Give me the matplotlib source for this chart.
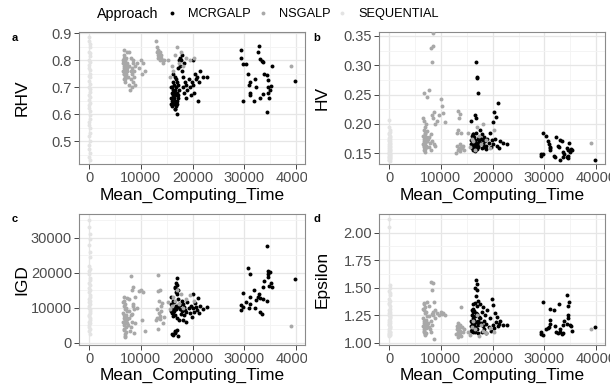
import matplotlib
matplotlib.use("Agg")
import matplotlib.pyplot as plt
from matplotlib.lines import Line2D
from matplotlib.ticker import FixedLocator, FormatStrFormatter
from matplotlib.transforms import Bbox, TransformedBbox

plt.rcParams["font.family"] = ["Liberation Sans", "DejaVu Sans"]

approaches = ["MCRGALP", "NSGALP", "SEQUENTIAL"]
colors = {"MCRGALP": "#000000", "NSGALP": "#A8A8A8", "SEQUENTIAL": "#E3E3E3"}

# ---------------- MCRGALP ----------------
mcr_time = [
    # cluster ~16-17k
    15800, 15900, 16000, 16000, 16100, 16100, 16200, 16200, 16300, 16300, 16400, 16400,
    16500, 16500, 16500, 16600, 16600, 16700, 16700, 16800, 16800, 16900, 16900, 17000,
    17000, 17100, 17100, 17200, 17300, 17400, 16200, 16600, 16900, 17200, 15900, 16400,
    # cluster 17.5-23k
    17500, 17600, 17800, 17900, 18000, 18100, 18200, 18300, 18400, 18500, 18700, 18800,
    19000, 19200, 19400, 19600, 19800, 20000, 20100, 20300, 20400, 20600, 20800, 21000,
    21200, 21500, 22000, 22800,
    # cluster 29-36k
    29400, 29400, 29800, 30300, 30600, 31000, 31000, 31100, 29800, 31800, 32900, 32600,
    33000, 33300, 33600, 33800, 34300, 34500, 34600, 34500, 34800, 35400, 33600, 34400,
    32000, 32300, 35000, 35200, 30800, 33000,
    39700,
]
mcr_rhv = [
    0.64, 0.66, 0.70, 0.68, 0.63, 0.65, 0.69, 0.72, 0.64, 0.67, 0.71, 0.66,
    0.62, 0.65, 0.74, 0.64, 0.69, 0.63, 0.67, 0.70, 0.73, 0.65, 0.60, 0.68,
    0.64, 0.77, 0.66, 0.71, 0.69, 0.80, 0.75, 0.62, 0.72, 0.67, 0.70, 0.68,
    0.81, 0.78, 0.80, 0.76, 0.82, 0.70, 0.74, 0.79, 0.68, 0.72, 0.66, 0.71,
    0.69, 0.73, 0.70, 0.67, 0.72, 0.71, 0.80, 0.68, 0.75, 0.73, 0.74, 0.65,
    0.72, 0.76, 0.74, 0.74,
    0.84, 0.81, 0.785, 0.785, 0.75, 0.72, 0.68, 0.67, 0.65, 0.65, 0.853, 0.83,
    0.805, 0.798, 0.793, 0.75, 0.746, 0.727, 0.70, 0.68, 0.66, 0.779, 0.676, 0.61,
    0.73, 0.70, 0.69, 0.705, 0.71, 0.66,
    0.724,
]
mcr_hv = [
    0.165, 0.172, 0.158, 0.180, 0.168, 0.161, 0.175, 0.183, 0.155, 0.170, 0.164, 0.178,
    0.160, 0.215, 0.168, 0.153, 0.172, 0.210, 0.162, 0.185, 0.305, 0.157, 0.280, 0.166,
    0.279, 0.174, 0.253, 0.160, 0.178, 0.170, 0.182, 0.156, 0.167, 0.163, 0.205, 0.171,
    0.168, 0.190, 0.175, 0.158, 0.182, 0.165, 0.172, 0.160, 0.178, 0.170, 0.163, 0.157,
    0.175, 0.168, 0.185, 0.160, 0.172, 0.203, 0.166, 0.220, 0.174, 0.212, 0.162, 0.235,
    0.158, 0.170, 0.167, 0.165,
    0.148, 0.145, 0.185, 0.179, 0.171, 0.161, 0.158, 0.156, 0.149, 0.146, 0.160, 0.163,
    0.172, 0.171, 0.152, 0.149, 0.158, 0.156, 0.142, 0.145, 0.167, 0.155, 0.144, 0.143,
    0.143, 0.178, 0.152, 0.157, 0.165, 0.138,
    0.139,
]
mcr_igd = [
    9000, 11000, 10500, 8500, 2500, 9500, 12000, 10000, 2300, 7500, 11500, 9000,
    3200, 16000, 8000, 3000, 15500, 14500, 10500, 9500, 17000, 3500, 16500, 7000,
    18500, 12500, 15000, 2000, 6500, 11000, 8800, 2800, 14000, 10200, 13000, 9300,
    9500, 10800, 8200, 12000, 9000, 6500, 11000, 7800, 10200, 9200, 5800, 8700,
    11500, 9800, 8400, 10600, 7200, 9900, 13800, 8800, 11200, 10100, 9400, 12800,
    8600, 10400, 9700, 10200,
    10800, 9300, 14100, 11500, 21300, 19500, 13100, 11000, 10100, 15000, 13900, 13100,
    8700, 8200, 16000, 17700, 27700, 18900, 19500, 20600, 16200, 16000, 12400, 11800,
    9900, 12200, 20300, 17000, 10000, 12900,
    18200,
]
mcr_eps = [
    1.20, 1.15, 1.25, 1.18, 1.30, 1.12, 1.22, 1.35, 1.10, 1.28, 1.17, 1.21,
    1.36, 1.14, 1.24, 1.50, 1.10, 1.19, 1.42, 1.27, 1.57, 1.12, 1.48, 1.33,
    1.53, 1.16, 1.38, 1.09, 1.23, 1.18, 1.31, 1.14, 1.26, 1.20, 1.11, 1.29,
    1.22, 1.35, 1.18, 1.10, 1.28, 1.15, 1.32, 1.12, 1.20, 1.25, 1.09, 1.17,
    1.30, 1.14, 1.22, 1.11, 1.40, 1.16, 1.34, 1.13, 1.27, 1.19, 1.23, 1.15,
    1.17, 1.20, 1.16, 1.16,
    1.08, 1.10, 1.37, 1.12, 1.13, 1.21, 1.17, 1.31, 1.07, 1.30, 1.35, 1.09,
    1.10, 1.08, 1.16, 1.20, 1.43, 1.25, 1.22, 1.33, 1.37, 1.11, 1.09, 1.17,
    1.15, 1.10, 1.16, 1.15, 1.14, 1.12,
    1.14,
]

# ---------------- NSGALP ----------------
nsg_time = [
    6600, 6600, 6700, 6700, 6700, 6800, 6800, 6800, 6900, 6900, 6900, 7000,
    7000, 7000, 7100, 7100, 7200, 7200, 7300, 7300, 7400, 7400, 6600, 6700,
    6800, 6900, 7000, 7100, 6800, 7200,
    7600, 7700, 7800, 7900, 8000, 8000, 8100, 8200, 8200, 8300, 8400, 8500,
    8600, 8700, 8800, 8900, 7800, 8400,
    9300, 9700, 10000, 10200, 10500, 10800,
    13000, 13100, 13200, 13300, 13400, 13400, 13500, 13500, 13600, 13700, 13700, 13800,
    13900, 14000, 14200, 14500,
    15200, 15600, 16000, 16300, 16600, 17000, 17400, 17800, 18200, 18800, 19500, 20300,
    39000,
]
nsg_rhv = [
    0.76, 0.79, 0.73, 0.77, 0.81, 0.75, 0.78, 0.82, 0.74, 0.76, 0.80, 0.72,
    0.77, 0.79, 0.75, 0.78, 0.74, 0.81, 0.76, 0.83, 0.77, 0.79, 0.80, 0.75,
    0.76, 0.78, 0.73, 0.76, 0.84, 0.77,
    0.74, 0.71, 0.78, 0.69, 0.76, 0.81, 0.73, 0.77, 0.70, 0.75, 0.79, 0.72,
    0.76, 0.74, 0.78, 0.71, 0.83, 0.80,
    0.79, 0.77, 0.80, 0.75, 0.79, 0.76,
    0.87, 0.85, 0.83, 0.82, 0.84, 0.81, 0.83, 0.82, 0.82, 0.80, 0.83, 0.81,
    0.82, 0.80, 0.79, 0.80,
    0.80, 0.74, 0.78, 0.76, 0.82, 0.85, 0.79, 0.83, 0.78, 0.81, 0.80, 0.81,
    0.78,
]
nsg_hv = [
    0.165, 0.180, 0.155, 0.170, 0.190, 0.160, 0.175, 0.205, 0.158, 0.168, 0.185, 0.152,
    0.172, 0.195, 0.163, 0.178, 0.160, 0.200, 0.170, 0.245, 0.175, 0.188, 0.210, 0.162,
    0.167, 0.182, 0.157, 0.171, 0.252, 0.176,
    0.175, 0.160, 0.258, 0.168, 0.182, 0.330, 0.155, 0.305, 0.170, 0.215, 0.355, 0.210,
    0.220, 0.165, 0.162, 0.200, 0.178, 0.332,
    0.205, 0.215, 0.243, 0.230, 0.218, 0.203,
    0.150, 0.162, 0.185, 0.155, 0.222, 0.190, 0.158, 0.210, 0.166, 0.153, 0.216, 0.160,
    0.185, 0.158, 0.163, 0.155,
    0.185, 0.160, 0.175, 0.170, 0.155, 0.195, 0.180, 0.165, 0.200, 0.172, 0.158, 0.190,
    0.168,
]
nsg_igd = [
    6000, 8500, 3500, 7000, 10500, 5000, 7800, 12000, 2500, 6500, 9500, 1500,
    7200, 11000, 4500, 8000, 3000, 10000, 5500, 12800, 6800, 9000, 11500, 4000,
    5800, 7500, 2000, 6200, 13000, 7000,
    5000, 9000, 12500, 3200, 7800, 19000, 4500, 15000, 8200, 6000, 16000, 11000,
    9500, 2800, 5500, 13000, 7000, 10500,
    10000, 14800, 15000, 6500, 14500, 3200,
    6500, 7000, 9500, 4000, 19200, 14800, 8500, 12000, 7500, 6800, 15000, 9000,
    10500, 11200, 5500, 7200,
    11500, 9500, 10500, 13000, 12000, 15000, 11000, 14000, 10000, 12500, 13500, 11800,
    4800,
]
nsg_eps = [
    1.15, 1.22, 1.10, 1.18, 1.30, 1.12, 1.20, 1.35, 1.08, 1.16, 1.27, 1.07,
    1.19, 1.32, 1.13, 1.21, 1.09, 1.28, 1.14, 1.37, 1.17, 1.24, 1.31, 1.11,
    1.15, 1.20, 1.09, 1.16, 1.36, 1.18,
    1.18, 1.24, 1.33, 1.12, 1.20, 1.55, 1.10, 1.48, 1.26, 1.16, 1.54, 1.28,
    1.37, 1.03, 1.22, 1.30, 1.14, 1.25,
    1.27, 1.25, 1.28, 1.26, 1.27, 1.25,
    1.08, 1.12, 1.15, 1.05, 1.18, 1.10, 1.13, 1.07, 1.16, 1.09, 1.11, 1.06,
    1.32, 1.14, 1.10, 1.12,
    1.10, 1.07, 1.14, 1.20, 1.12, 1.25, 1.06, 1.16, 1.11, 1.09, 1.13, 1.10,
    1.12,
]

# ---------------- SEQUENTIAL ----------------
seq_time = [
    30, 60, 90, 120, 40, 80, 150, 20, 100, 70, 50, 110, 140, 10, 90, 60, 130, 30, 80, 120,
    40, 100, 70, 160, 20, 50, 110, 90, 140, 60, 30, 80, 120, 10, 100, 70, 50, 130, 40, 90,
]
seq_rhv = [
    0.885, 0.872, 0.861, 0.848, 0.832, 0.826, 0.815, 0.801, 0.793, 0.781, 0.772, 0.765,
    0.751, 0.742, 0.738, 0.724, 0.712, 0.703, 0.694, 0.681, 0.672, 0.664, 0.652, 0.641,
    0.633, 0.622, 0.611, 0.598, 0.584, 0.571, 0.562, 0.548, 0.532, 0.521, 0.502, 0.487,
    0.471, 0.458, 0.442, 0.431,
]
seq_hv = [
    0.207, 0.195, 0.190, 0.186, 0.183, 0.180, 0.178, 0.176, 0.174, 0.172, 0.170, 0.168,
    0.166, 0.165, 0.163, 0.162, 0.160, 0.158, 0.157, 0.156, 0.155, 0.153, 0.152, 0.151,
    0.150, 0.149, 0.148, 0.147, 0.146, 0.145, 0.144, 0.143, 0.142, 0.141, 0.140, 0.139,
    0.138, 0.137, 0.185, 0.171,
]
seq_igd = [
    35000, 33000, 31000, 29500, 28000, 26000, 24500, 22000, 21000, 20500, 19500, 18500,
    18000, 17000, 16500, 15500, 15000, 14500, 13500, 13000, 12500, 12000, 11500, 11000,
    10500, 10000, 9500, 9000, 8500, 8000, 7500, 7000, 6500, 6000, 5500, 5000,
    4500, 4000, 3200, 2500,
]
seq_eps = [
    2.12, 2.05, 1.52, 1.50, 1.47, 1.45, 1.43, 1.40, 1.38, 1.36, 1.35, 1.33,
    1.31, 1.30, 1.28, 1.27, 1.26, 1.25, 1.23, 1.22, 1.21, 1.20, 1.19, 1.18,
    1.17, 1.16, 1.15, 1.14, 1.13, 1.12, 1.11, 1.10, 1.10, 1.09, 1.08, 1.08,
    1.07, 1.07, 1.06, 1.24,
]

times = {"MCRGALP": mcr_time, "NSGALP": nsg_time, "SEQUENTIAL": seq_time}
metrics = [
    ("RHV", {"MCRGALP": mcr_rhv, "NSGALP": nsg_rhv, "SEQUENTIAL": seq_rhv}),
    ("HV", {"MCRGALP": mcr_hv, "NSGALP": nsg_hv, "SEQUENTIAL": seq_hv}),
    ("IGD", {"MCRGALP": mcr_igd, "NSGALP": nsg_igd, "SEQUENTIAL": seq_igd}),
    ("Epsilon", {"MCRGALP": mcr_eps, "NSGALP": nsg_eps, "SEQUENTIAL": seq_eps}),
]
panel_tags = ["a", "b", "c", "d"]
ylims = [(0.416, 0.905), (0.1315, 0.3567), (-657, 36770), (0.979, 2.17)]
yticks = [
    [0.5, 0.6, 0.7, 0.8, 0.9],
    [0.15, 0.20, 0.25, 0.30, 0.35],
    [0, 10000, 20000, 30000],
    [1.00, 1.25, 1.50, 1.75, 2.00],
]
yfmt = ["%.1f", "%.2f", "%d", "%.2f"]
xticks = [0, 10000, 20000, 30000, 40000]

W, H = 610, 390
fig = plt.figure(figsize=(W / 100, H / 100), dpi=100)

# axes boxes in pixels: left, top, right, bottom
boxes = [(79, 32, 305, 164), (379, 32, 605, 164), (79, 214, 305, 345), (379, 214, 605, 345)]
clips = [(0, 307), (300, 610), (0, 307), (300, 610)]

for i, (name, data) in enumerate(metrics):
    l, t, r, b = boxes[i]
    ax = fig.add_axes([l / W, (H - b) / H, (r - l) / W, (b - t) / H])
    for ap in approaches:
        ax.scatter(times[ap], data[ap], s=8, color=colors[ap], linewidths=0, zorder=3)

    ax.set_xlim(-1950, 41700)
    ax.set_ylim(*ylims[i])
    ax.xaxis.set_major_locator(FixedLocator(xticks))
    ax.xaxis.set_minor_locator(FixedLocator([x + 5000 for x in [-10000] + xticks]))
    ax.yaxis.set_major_locator(FixedLocator(yticks[i]))
    step = yticks[i][1] - yticks[i][0]
    ax.yaxis.set_minor_locator(FixedLocator([y - step / 2 for y in yticks[i]] + [yticks[i][-1] + step / 2]))
    ax.yaxis.set_major_formatter(FormatStrFormatter(yfmt[i]))

    ax.grid(True, which="major", color="#E6E6E6", linewidth=0.9, zorder=0)
    ax.grid(True, which="minor", color="#F3F3F3", linewidth=0.6, zorder=0)
    ax.set_axisbelow(True)
    for sp in ax.spines.values():
        sp.set_color("#8A8A8A")
        sp.set_linewidth(0.8)
    ax.tick_params(which="major", length=3.5, width=0.7, color="#444444",
                   labelsize=10.5, labelcolor="#4D4D4D", pad=1.5)
    ax.tick_params(which="minor", length=0)

    ax.set_xlabel("Mean_Computing_Time", fontsize=12.5)
    ax.set_ylabel(name, fontsize=12.5)
    ax.xaxis.set_label_coords(0.5, -0.235)
    ax.yaxis.set_label_coords(-0.252, 0.5)
    ax.xaxis.label.set_verticalalignment("center")
    ax.yaxis.label.set_verticalalignment("center")

    cx0, cx1 = clips[i]
    cb = TransformedBbox(Bbox.from_extents(cx0 / 100, 0, cx1 / 100, H / 100), fig.dpi_scale_trans)
    for lbl in ax.get_xticklabels():
        lbl.set_clip_box(cb)
        lbl.set_clip_on(True)

    tx = 15 if i % 2 == 0 else 317
    ty = 38 if i < 2 else 219
    fig.text(tx / W, 1 - ty / H, panel_tags[i], fontsize=8, fontweight="bold",
             ha="center", va="center")

# legend across the top
fig.text(97 / W, 1 - 14 / H, "Approach", fontsize=10.3, ha="left", va="center")
handles = [Line2D([], [], linestyle="none", marker="o", markersize=2.8,
                  markerfacecolor=colors[ap], markeredgewidth=0) for ap in approaches]
fig.legend(handles, approaches, loc="center left", bbox_to_anchor=(167 / W, 1 - 14 / H),
           ncol=3, frameon=False, fontsize=9.2, handlelength=0.8, handletextpad=0.85,
           columnspacing=0.55, borderpad=0, borderaxespad=0)

fig.savefig("out.png", dpi=100)
